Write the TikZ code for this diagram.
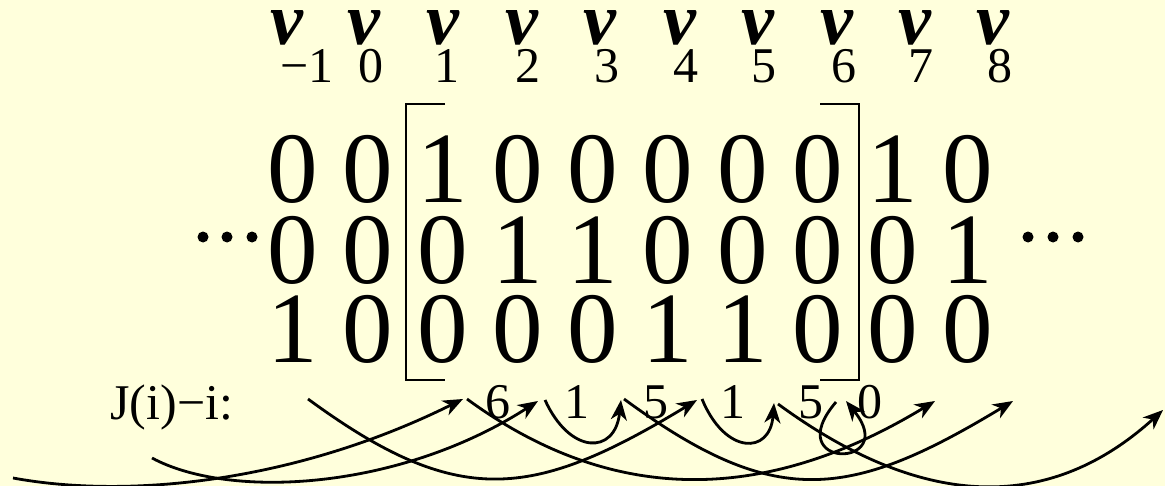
\documentclass[tikz,border=0pt]{standalone}
\usepackage{fontspec}
\setmainfont{Liberation Serif}
\usetikzlibrary{arrows.meta}
\definecolor{bg}{RGB}{255,255,220}
\newcommand\bigdigits{\fontsize{50.5}{60}\selectfont}
\newcommand\vfnt{\fontsize{37}{40}\selectfont\bfseries\itshape}
\newcommand\smallfnt{\fontsize{25}{30}\selectfont}
\begin{document}
\begin{tikzpicture}[x=0.5pt,y=-0.5pt,
  dig/.style={anchor=base, inner sep=0pt, font=\bigdigits},
  vlab/.style={anchor=base, inner sep=0pt, font=\vfnt},
  sub/.style={anchor=base, inner sep=0pt, font=\smallfnt},
  lab/.style={anchor=base, inner sep=0pt, font=\smallfnt},
  arr/.style={line width=1.4pt, -{Stealth[length=10pt,width=8pt,inset=3pt]}},
  brk/.style={line width=1pt},
  dot/.style={circle, fill=black, inner sep=0pt, minimum size=5.5pt}]
\fill[bg] (0,0) rectangle (1165,486);
\useasboundingbox (0,0) rectangle (1165,486);

% column labels
\foreach \n/\t/\vx/\sx in {m1/−1/287/307, 0/0/364/371, 1/1/443/447, 2/2/522/528, 3/3/600/607,
  4/4/680/686, 5/5/758/764, 6/6/837/844, 7/7/915/921, 8/8/993/1000}{
  \node[vlab] (v\n) at (\vx,45) {v};
  \node[sub] (vs\n) at (\sx,83) {\t};
}

% matrix digits
\foreach \c/\a/\b/\d in {-1/0/0/1, 0/0/0/0, 1/1/0/0, 2/0/1/0, 3/0/1/0, 4/0/0/1,
  5/0/0/1, 6/0/0/0, 7/1/0/0, 8/0/1/0}{
  \node[dig] (ra\c) at ({443+75*(\c-1)},203) {\a};
  \node[dig] (rb\c) at ({443+75*(\c-1)},283) {\b};
  \node[dig] (rc\c) at ({443+75*(\c-1)},362) {\d};
}

% dots
\node[dot] (ld1) at (203,237) {};
\node[dot] (ld2) at (227,237) {};
\node[dot] (ld3) at (252,237) {};
\node[dot] (rd1) at (1028,237) {};
\node[dot] (rd2) at (1053,237) {};
\node[dot] (rd3) at (1078,237) {};

% bracket
\draw[brk] (445,104) -- (406,104) -- (406,380) -- (445,380);
\draw[brk] (820,104) -- (859,104) -- (859,380) -- (820,380);

% bottom row
\node[lab, anchor=base west] (jlab) at (110,419) {J(i)−i:};
\node[lab] (n1) at (498,418) {6};
\node[lab] (n2) at (577,418) {1};
\node[lab] (n3) at (656,418) {5};
\node[lab] (n4) at (733,418) {1};
\node[lab] (n5) at (811,418) {5};
\node[lab] (n6) at (870,418) {0};

% arrow ends
\coordinate (a1s) at (13,478);
\coordinate (a2s) at (152,458);
\coordinate (sm1) at (308,399);
\coordinate (s1) at (467,399);
\coordinate (s2) at (545,400);
\coordinate (s3) at (624,399);
\coordinate (s4) at (702,399);
\coordinate (s5) at (778,404);
\coordinate (s6) at (836,402);
\coordinate (t1) at (463,399);
\coordinate (t2) at (538,401);
\coordinate (t3) at (621,400);
\coordinate (t4) at (697,400);
\coordinate (t5) at (774,403);
\coordinate (t6) at (846,401);
\coordinate (t7) at (935,401);
\coordinate (t8) at (1013,401);
\coordinate (t10) at (1163,410);

\draw[arr] (a1s) .. controls +(120,22) and +(-163,81) .. (t1);
\draw[arr] (a2s) .. controls +(78,42) and +(-138,89) .. (t2);
\draw[arr] (sm1) .. controls +(150,110) and +(-165,100) .. (t4);
\draw[arr] (s1) .. controls +(150,110) and +(-165,100) .. (t7);
\draw[arr] (s2) .. controls +(25,55) and +(-6,55) .. (t3);
\draw[arr] (s3) .. controls +(150,110) and +(-165,100) .. (t8);
\draw[arr] (s4) .. controls +(23,56) and +(-4,52) .. (t5);
\draw[arr] (s5) .. controls +(150,110) and +(-110,100) .. (t10);
\draw[arr] (s6) .. controls +(-58,68) and +(55,68) .. (t6);
\end{tikzpicture}
\end{document}
